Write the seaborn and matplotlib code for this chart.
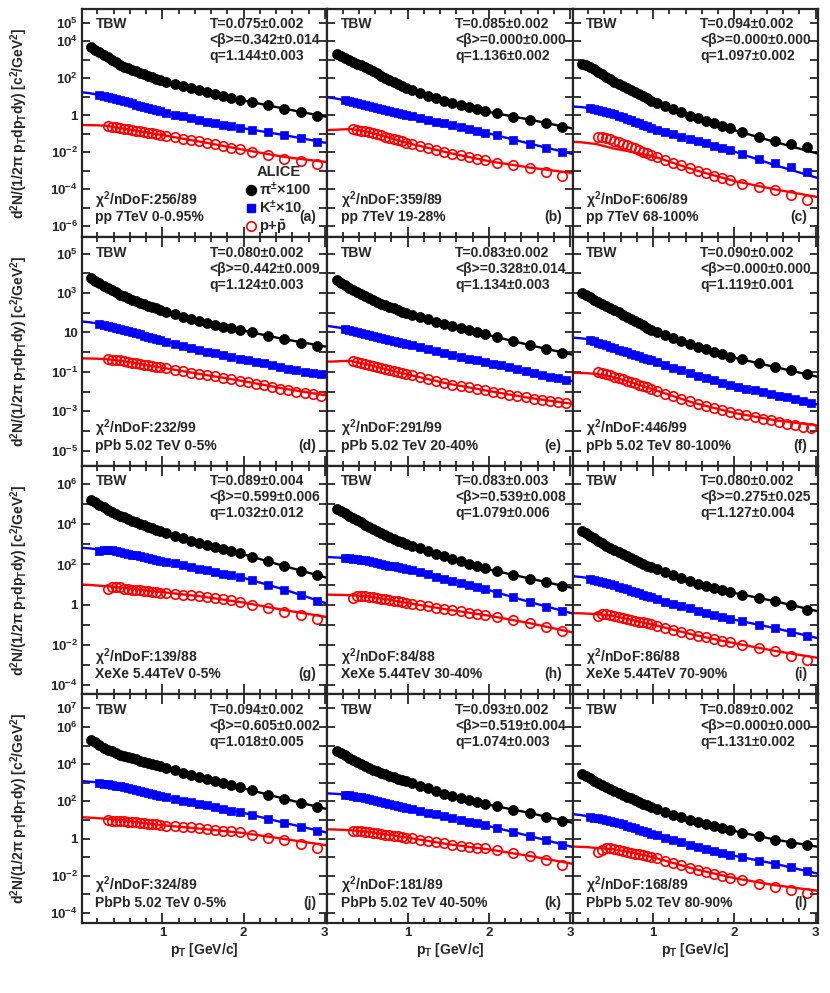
import numpy as np
import matplotlib
matplotlib.use('Agg')
import matplotlib.pyplot as plt
import seaborn as sns
from matplotlib.ticker import FixedLocator, MultipleLocator, NullLocator
from matplotlib.lines import Line2D

# ---- data (log10 of d2N/(2pi pT dpT dy)) ----
# pT bin centres (pions use all, kaons from 0.225, protons from 0.325)
PT = [0.125, 0.175, 0.225, 0.275, 0.325, 0.375, 0.425, 0.475, 0.525, 0.575,
      0.625, 0.675, 0.725, 0.775, 0.825, 0.875, 0.925, 0.975,
      1.05, 1.15, 1.25, 1.35, 1.45, 1.55, 1.65, 1.75, 1.85, 1.95,
      2.1, 2.3, 2.5, 2.7, 2.9]
# pPb kaons / protons have finer bins above 2 GeV/c
PT_PPB = [0.125, 0.175, 0.225, 0.275, 0.325, 0.375, 0.425, 0.475, 0.525, 0.575,
          0.625, 0.675, 0.725, 0.775, 0.825, 0.875, 0.925, 0.975,
          1.05, 1.15, 1.25, 1.35, 1.45, 1.55, 1.65, 1.75, 1.85, 1.95,
          2.05, 2.15, 2.25, 2.35, 2.45, 2.55, 2.65, 2.75, 2.85, 2.95]
# x of the fit curves (pion curve starts at 0.1)
FIT_X = [0.0, 0.1, 0.2, 0.3, 0.5, 0.75, 1.0, 1.5, 2.0, 2.5, 3.03]

# (a) pp 7TeV 0-0.95%
PI_A = [3.67, 3.54, 3.40, 3.27, 3.13, 3.00, 2.87, 2.74, 2.63, 2.54, 2.45, 2.37, 2.29, 2.21, 2.13, 2.05, 1.98, 1.91,
        1.81, 1.70, 1.59, 1.47, 1.36, 1.25, 1.15, 1.05, 0.95, 0.85, 0.71, 0.54, 0.36, 0.16, -0.04]
K_A = [1.08, 1.03, 0.98, 0.93, 0.88, 0.83, 0.77, 0.71, 0.64, 0.58, 0.52, 0.46, 0.40, 0.33, 0.27, 0.21,
       0.13, 0.04, -0.06, -0.16, -0.25, -0.34, -0.42, -0.50, -0.58, -0.66, -0.77, -0.92, -1.07, -1.25, -1.43]
P_A = [-0.58, -0.61, -0.65, -0.68, -0.72, -0.76, -0.79, -0.83, -0.87, -0.90, -0.94, -0.98, -1.01, -1.05,
       -1.11, -1.18, -1.26, -1.34, -1.41, -1.49, -1.57, -1.66, -1.74, -1.82, -1.96, -2.15, -2.35, -2.46, -2.62]
PI_FIT_A = [3.74, 3.47, 3.2, 2.67, 2.22, 1.87, 1.3, 0.8, 0.36, -0.09]
K_FIT_A = [1.25, 1.2, 1.12, 1.02, 0.8, 0.5, 0.18, -0.3, -0.7, -1.07, -1.5]
P_FIT_A = [-0.52, -0.53, -0.54, -0.56, -0.7, -0.88, -1.07, -1.45, -1.86, -2.25, -2.53]

# (b) pp 7TeV 19-28%
PI_B = [3.34, 3.23, 3.12, 3.01, 2.90, 2.80, 2.70, 2.60, 2.49, 2.38, 2.27, 2.15, 2.04, 1.93, 1.82, 1.71, 1.60, 1.49,
        1.36, 1.21, 1.07, 0.92, 0.78, 0.66, 0.55, 0.45, 0.34, 0.23, 0.10, -0.07, -0.23, -0.43, -0.62]
K_B = [0.81, 0.76, 0.71, 0.66, 0.61, 0.56, 0.50, 0.45, 0.40, 0.34, 0.29, 0.24, 0.18, 0.13, 0.08, 0.03,
       -0.05, -0.14, -0.24, -0.34, -0.43, -0.53, -0.63, -0.73, -0.83, -0.93, -1.09, -1.31, -1.53, -1.76, -1.98]
P_B = [-0.76, -0.79, -0.83, -0.86, -0.91, -0.97, -1.03, -1.09, -1.16, -1.22, -1.28, -1.34, -1.41, -1.47,
       -1.55, -1.66, -1.76, -1.86, -1.97, -2.07, -2.16, -2.25, -2.34, -2.43, -2.55, -2.70, -2.85, -3.05, -3.30]
PI_FIT_B = [3.39, 3.16, 2.95, 2.55, 1.97, 1.43, 0.71, 0.18, -0.23, -0.71]
K_FIT_B = [0.98, 0.92, 0.84, 0.74, 0.53, 0.27, 0.0, -0.48, -0.98, -1.53, -2.09]
P_FIT_B = [-0.8, -0.78, -0.76, -0.74, -0.88, -1.18, -1.5, -2.02, -2.48, -2.82, -3.12]

# (c) pp 7TeV 68-100%
PI_C = [2.78, 2.71, 2.62, 2.50, 2.34, 2.21, 2.07, 1.94, 1.81, 1.70, 1.59, 1.47, 1.36, 1.25, 1.14, 1.03, 0.92, 0.80,
        0.67, 0.50, 0.33, 0.16, -0.01, -0.16, -0.30, -0.44, -0.57, -0.71, -0.89, -1.16, -1.37, -1.55, -1.73]
K_C = [0.38, 0.33, 0.28, 0.22, 0.17, 0.12, 0.05, -0.03, -0.11, -0.18, -0.26, -0.34, -0.42, -0.50, -0.59, -0.67,
       -0.77, -0.90, -1.02, -1.15, -1.27, -1.40, -1.52, -1.65, -1.77, -1.90, -2.08, -2.34, -2.58, -2.80, -3.05]
P_C = [-1.15, -1.18, -1.23, -1.30, -1.38, -1.46, -1.54, -1.62, -1.70, -1.78, -1.87, -1.96, -2.05, -2.14,
       -2.26, -2.41, -2.56, -2.71, -2.86, -3.00, -3.13, -3.26, -3.38, -3.51, -3.72, -3.90, -4.03, -4.28, -4.55]
PI_FIT_C = [2.8, 2.67, 2.41, 1.87, 1.3, 0.75, -0.09, -0.8, -1.44, -2.07]
K_FIT_C = [0.48, 0.45, 0.41, 0.33, 0.09, -0.3, -0.71, -1.34, -1.96, -2.69, -3.39]
P_FIT_C = [-1.43, -1.45, -1.5, -1.55, -1.78, -1.98, -2.21, -2.94, -3.55, -4.0, -4.42]

# (d) pPb 5.02 TeV 0-5%
PI_D = [3.76, 3.63, 3.50, 3.37, 3.25, 3.14, 3.03, 2.92, 2.83, 2.75, 2.67, 2.59, 2.51, 2.43, 2.36, 2.29, 2.22, 2.15,
        2.05, 1.93, 1.81, 1.69, 1.57, 1.47, 1.38, 1.30, 1.22, 1.13, 1.00, 0.83, 0.66, 0.49, 0.32]
K_D = [1.44, 1.39, 1.34, 1.29, 1.24, 1.19, 1.14, 1.08, 1.02, 0.96, 0.90, 0.84, 0.78, 0.73, 0.67, 0.61,
       0.53, 0.43, 0.32, 0.22, 0.12, 0.03, -0.06, -0.15, -0.23, -0.32,
       -0.40, -0.49, -0.57, -0.66, -0.75, -0.83, -0.90, -0.98, -1.05, -1.13]
P_D = [-0.36, -0.38, -0.40, -0.42, -0.46, -0.49, -0.53, -0.56, -0.60, -0.63, -0.67, -0.70, -0.74, -0.77,
       -0.82, -0.89, -0.96, -1.03, -1.10, -1.16, -1.23, -1.30, -1.37, -1.44,
       -1.51, -1.60, -1.68, -1.77, -1.85, -1.93, -2.00, -2.07, -2.14, -2.20]
PI_FIT_D = [3.83, 3.55, 3.3, 2.87, 2.47, 2.11, 1.51, 1.09, 0.66, 0.27]
K_FIT_D = [1.56, 1.52, 1.46, 1.39, 1.17, 0.87, 0.58, 0.07, -0.36, -0.79, -1.21]
P_FIT_D = [-0.31, -0.32, -0.33, -0.35, -0.44, -0.61, -0.79, -1.13, -1.47, -1.85, -2.2]

# (e) pPb 5.02 TeV 20-40%
PI_E = [3.64, 3.52, 3.39, 3.27, 3.16, 3.06, 2.95, 2.84, 2.74, 2.65, 2.56, 2.47, 2.39, 2.30, 2.22, 2.14, 2.06, 1.98,
        1.88, 1.77, 1.66, 1.55, 1.44, 1.33, 1.23, 1.12, 1.02, 0.91, 0.76, 0.56, 0.36, 0.16, -0.04]
K_E = [1.19, 1.14, 1.09, 1.04, 0.99, 0.94, 0.88, 0.83, 0.78, 0.73, 0.68, 0.63, 0.58, 0.52, 0.47, 0.42,
       0.35, 0.25, 0.14, 0.04, -0.06, -0.15, -0.24, -0.32, -0.40, -0.49,
       -0.58, -0.67, -0.77, -0.86, -0.95, -1.05, -1.14, -1.24, -1.33, -1.42]
P_E = [-0.46, -0.51, -0.55, -0.60, -0.65, -0.70, -0.75, -0.80, -0.85, -0.90, -0.96, -1.01, -1.06, -1.11,
       -1.18, -1.27, -1.37, -1.46, -1.55, -1.64, -1.71, -1.79, -1.86, -1.93,
       -2.01, -2.08, -2.15, -2.22, -2.29, -2.35, -2.41, -2.48, -2.54, -2.60]
PI_FIT_E = [3.7, 3.46, 3.21, 2.79, 2.35, 1.93, 1.38, 0.86, 0.36, -0.13]
K_FIT_E = [1.34, 1.28, 1.22, 1.15, 0.91, 0.66, 0.4, -0.11, -0.53, -1.0, -1.47]
P_FIT_E = [-0.48, -0.47, -0.45, -0.44, -0.62, -0.88, -1.13, -1.6, -1.97, -2.32, -2.62]

# (f) pPb 5.02 TeV 80-100%
PI_F = [2.99, 2.88, 2.78, 2.67, 2.57, 2.46, 2.35, 2.24, 2.13, 2.02, 1.91, 1.80, 1.69, 1.58, 1.47, 1.36, 1.25, 1.14,
        1.01, 0.86, 0.70, 0.55, 0.40, 0.26, 0.14, 0.02, -0.10, -0.22, -0.36, -0.53, -0.75, -0.92, -1.09]
K_F = [0.62, 0.55, 0.48, 0.41, 0.34, 0.27, 0.20, 0.13, 0.06, 0.00, -0.07, -0.14, -0.20, -0.27, -0.34, -0.41,
       -0.51, -0.65, -0.79, -0.92, -1.06, -1.19, -1.31, -1.43, -1.54, -1.66,
       -1.76, -1.85, -1.94, -2.02, -2.11, -2.20, -2.29, -2.38, -2.47, -2.56]
P_F = [-0.98, -1.05, -1.11, -1.18, -1.24, -1.31, -1.38, -1.45, -1.52, -1.58, -1.65, -1.72, -1.79, -1.86,
       -1.96, -2.10, -2.23, -2.37, -2.50, -2.62, -2.72, -2.83, -2.93, -3.03,
       -3.12, -3.21, -3.29, -3.37, -3.46, -3.54, -3.62, -3.70, -3.77, -3.85]
PI_FIT_F = [3.04, 2.87, 2.62, 2.19, 1.62, 1.09, 0.32, -0.28, -0.75, -1.25]
K_FIT_F = [0.74, 0.71, 0.66, 0.57, 0.23, -0.1, -0.44, -1.13, -1.72, -2.15, -2.66]
P_FIT_F = [-1.04, -1.05, -1.07, -1.1, -1.25, -1.55, -1.89, -2.57, -3.08, -3.45, -3.72]

# (g) XeXe 5.44TeV 0-5%
PI_G = [5.22, 5.09, 4.97, 4.84, 4.73, 4.63, 4.53, 4.43, 4.34, 4.26, 4.18, 4.11, 4.03, 3.96, 3.88, 3.81, 3.73, 3.66,
        3.56, 3.43, 3.31, 3.19, 3.06, 2.95, 2.85, 2.75, 2.65, 2.55, 2.38, 2.15, 1.92, 1.69, 1.45]
K_G = [2.66, 2.72, 2.73, 2.71, 2.68, 2.64, 2.58, 2.54, 2.49, 2.45, 2.41, 2.37, 2.32, 2.28, 2.24, 2.19,
       2.13, 2.05, 1.96, 1.88, 1.79, 1.71, 1.63, 1.54, 1.46, 1.37, 1.22, 0.99, 0.75, 0.46, 0.17]
P_G = [0.80, 0.86, 0.90, 0.86, 0.80, 0.77, 0.75, 0.73, 0.71, 0.69, 0.67, 0.64, 0.62, 0.59,
       0.56, 0.53, 0.50, 0.47, 0.44, 0.39, 0.33, 0.27, 0.21, 0.15, -0.03, -0.17, -0.38, -0.53, -0.72]
PI_FIT_G = [5.28, 5.0, 4.78, 4.38, 3.99, 3.62, 3.0, 2.5, 1.92, 1.33]
K_FIT_G = [2.83, 2.8, 2.75, 2.7, 2.6, 2.39, 2.17, 1.75, 1.33, 0.75, 0.05]
P_FIT_G = [1.0, 0.98, 0.95, 0.92, 0.85, 0.74, 0.62, 0.4, 0.1, -0.27, -0.62]

# (h) XeXe 5.44TeV 30-40%
PI_H = [4.75, 4.64, 4.54, 4.43, 4.32, 4.21, 4.09, 3.98, 3.86, 3.76, 3.66, 3.56, 3.46, 3.37, 3.28, 3.19, 3.11, 3.03,
        2.93, 2.80, 2.66, 2.53, 2.40, 2.27, 2.16, 2.04, 1.93, 1.81, 1.66, 1.48, 1.30, 1.12, 0.95]
K_H = [2.31, 2.31, 2.29, 2.26, 2.23, 2.20, 2.15, 2.11, 2.07, 2.02, 1.98, 1.94, 1.90, 1.86, 1.82, 1.77,
       1.70, 1.60, 1.50, 1.40, 1.30, 1.20, 1.09, 0.99, 0.88, 0.77, 0.60, 0.36, 0.13, -0.10, -0.33]
P_H = [0.35, 0.41, 0.45, 0.44, 0.40, 0.37, 0.33, 0.30, 0.26, 0.23, 0.20, 0.16, 0.13, 0.09,
       0.05, -0.02, -0.08, -0.15, -0.22, -0.28, -0.34, -0.40, -0.46, -0.52, -0.62, -0.77, -0.92, -1.10, -1.30]
PI_FIT_H = [4.8, 4.58, 4.38, 3.92, 3.42, 3.0, 2.33, 1.75, 1.3, 0.83]
K_FIT_H = [2.37, 2.35, 2.33, 2.3, 2.17, 1.97, 1.75, 1.25, 0.72, 0.13, -0.44]
P_FIT_H = [0.5, 0.49, 0.48, 0.47, 0.42, 0.26, 0.08, -0.25, -0.55, -0.92, -1.38]

# (i) XeXe 5.44TeV 70-90%
PI_I = [3.66, 3.54, 3.43, 3.31, 3.19, 3.06, 2.94, 2.81, 2.70, 2.60, 2.50, 2.40, 2.31, 2.21, 2.12, 2.03, 1.94, 1.86,
        1.76, 1.61, 1.46, 1.31, 1.16, 1.03, 0.93, 0.83, 0.73, 0.63, 0.50, 0.33, 0.17, -0.04, -0.25]
K_I = [1.30, 1.25, 1.19, 1.14, 1.08, 1.03, 0.97, 0.90, 0.83, 0.77, 0.70, 0.63, 0.57, 0.50, 0.43, 0.36,
       0.27, 0.15, 0.04, -0.08, -0.19, -0.30, -0.40, -0.50, -0.60, -0.70, -0.83, -1.00, -1.17, -1.38, -1.58]
P_I = [-0.56, -0.49, -0.46, -0.50, -0.57, -0.61, -0.66, -0.70, -0.75, -0.79, -0.84, -0.88, -0.93, -0.97,
       -1.05, -1.15, -1.25, -1.35, -1.45, -1.54, -1.62, -1.71, -1.79, -1.88, -2.00, -2.16, -2.33, -2.54, -2.75]
PI_FIT_I = [3.72, 3.5, 3.25, 2.75, 2.27, 1.83, 1.08, 0.58, 0.17, -0.33]
K_FIT_I = [1.42, 1.38, 1.33, 1.25, 1.0, 0.67, 0.33, -0.25, -0.75, -1.17, -1.67]
P_FIT_I = [-0.42, -0.43, -0.45, -0.47, -0.55, -0.77, -1.0, -1.5, -1.92, -2.3, -2.65]

# (j) PbPb 5.02 TeV 0-5%
PI_J = [5.31, 5.17, 5.02, 4.88, 4.77, 4.69, 4.60, 4.51, 4.44, 4.38, 4.32, 4.26, 4.19, 4.13, 4.07, 4.01, 3.94, 3.88,
        3.79, 3.67, 3.54, 3.42, 3.29, 3.18, 3.07, 2.97, 2.86, 2.75, 2.59, 2.36, 2.14, 1.91, 1.68]
K_J = [3.00, 2.96, 2.92, 2.88, 2.85, 2.81, 2.76, 2.71, 2.66, 2.60, 2.55, 2.50, 2.44, 2.39, 2.34, 2.29,
       2.22, 2.13, 2.04, 1.95, 1.86, 1.78, 1.69, 1.60, 1.51, 1.42, 1.27, 1.06, 0.85, 0.63, 0.41]
P_J = [0.99, 0.97, 0.96, 0.95, 0.93, 0.91, 0.89, 0.87, 0.85, 0.82, 0.80, 0.78, 0.76, 0.74,
       0.70, 0.67, 0.63, 0.60, 0.57, 0.53, 0.48, 0.43, 0.39, 0.34, 0.20, 0.05, -0.08, -0.30, -0.48]
PI_FIT_J = [5.38, 5.08, 4.81, 4.47, 4.15, 3.85, 3.23, 2.7, 2.14, 1.58]
K_FIT_J = [3.09, 3.06, 3.02, 2.96, 2.79, 2.53, 2.26, 1.82, 1.38, 0.85, 0.32]
P_FIT_J = [1.15, 1.13, 1.1, 1.07, 1.0, 0.85, 0.72, 0.52, 0.3, -0.02, -0.36]

# (k) PbPb 5.02 TeV 40-50%
PI_K = [4.72, 4.60, 4.47, 4.35, 4.23, 4.12, 4.01, 3.90, 3.80, 3.71, 3.62, 3.53, 3.45, 3.37, 3.29, 3.21, 3.14, 3.07,
        2.98, 2.84, 2.70, 2.56, 2.42, 2.30, 2.19, 2.09, 1.98, 1.87, 1.73, 1.56, 1.38, 1.16, 0.94]
K_K = [2.36, 2.33, 2.29, 2.26, 2.22, 2.19, 2.14, 2.09, 2.04, 1.98, 1.93, 1.88, 1.82, 1.77, 1.72, 1.67,
       1.59, 1.49, 1.40, 1.30, 1.20, 1.10, 1.01, 0.91, 0.82, 0.72, 0.56, 0.35, 0.14, -0.10, -0.33]
P_K = [0.43, 0.42, 0.40, 0.38, 0.35, 0.32, 0.29, 0.26, 0.22, 0.19, 0.16, 0.13, 0.10, 0.06,
       0.02, -0.05, -0.12, -0.19, -0.26, -0.33, -0.38, -0.43, -0.48, -0.53, -0.62, -0.77, -0.92, -1.15, -1.39]
PI_FIT_K = [4.78, 4.55, 4.29, 3.85, 3.43, 3.05, 2.35, 1.82, 1.38, 0.85]
K_FIT_K = [2.43, 2.41, 2.38, 2.33, 2.17, 1.9, 1.64, 1.15, 0.67, 0.14, -0.45]
P_FIT_K = [0.5, 0.49, 0.47, 0.45, 0.37, 0.22, 0.05, -0.3, -0.58, -0.93, -1.35]

# (l) PbPb 5.02 TeV 80-90%
PI_L = [3.49, 3.36, 3.24, 3.11, 2.99, 2.88, 2.77, 2.66, 2.56, 2.46, 2.36, 2.26, 2.16, 2.06, 1.96, 1.87, 1.78, 1.69,
        1.57, 1.43, 1.29, 1.15, 1.01, 0.89, 0.78, 0.68, 0.57, 0.46, 0.30, 0.12, -0.06, -0.22, -0.36]
K_L = [1.18, 1.13, 1.09, 1.05, 1.00, 0.96, 0.90, 0.83, 0.76, 0.69, 0.62, 0.55, 0.47, 0.40, 0.33, 0.26,
       0.17, 0.05, -0.08, -0.20, -0.33, -0.44, -0.55, -0.66, -0.76, -0.87, -1.01, -1.18, -1.35, -1.55, -1.75]
P_L = [-0.70, -0.60, -0.52, -0.53, -0.58, -0.62, -0.66, -0.71, -0.75, -0.80, -0.84, -0.89, -0.93, -0.98,
       -1.06, -1.19, -1.31, -1.43, -1.56, -1.67, -1.78, -1.88, -1.99, -2.10, -2.24, -2.41, -2.59, -2.76, -2.94]
PI_FIT_L = [3.55, 3.32, 3.05, 2.61, 2.1, 1.64, 0.94, 0.41, -0.05, -0.44]
K_FIT_L = [1.32, 1.27, 1.2, 1.13, 0.94, 0.6, 0.23, -0.39, -0.92, -1.35, -1.88]
P_FIT_L = [-0.42, -0.44, -0.46, -0.5, -0.56, -0.75, -1.0, -1.62, -2.12, -2.5, -2.8]

# fit parameters and panel texts
TAGS = ['(a)', '(b)', '(c)', '(d)', '(e)', '(f)', '(g)', '(h)', '(i)', '(j)', '(k)', '(l)']
TEMPS = ['0.075±0.002', '0.085±0.002', '0.094±0.002', '0.080±0.002', '0.083±0.002', '0.090±0.002',
         '0.089±0.004', '0.083±0.003', '0.080±0.002', '0.094±0.002', '0.093±0.002', '0.089±0.002']
BETAS = ['0.342±0.014', '0.000±0.000', '0.000±0.000', '0.442±0.009', '0.328±0.014', '0.000±0.000',
         '0.599±0.006', '0.539±0.008', '0.275±0.025', '0.605±0.002', '0.519±0.004', '0.000±0.000']
QS = ['1.144±0.003', '1.136±0.002', '1.097±0.002', '1.124±0.003', '1.134±0.003', '1.119±0.001',
      '1.032±0.012', '1.079±0.006', '1.127±0.004', '1.018±0.005', '1.074±0.003', '1.131±0.002']
CHI2 = ['256/89', '359/89', '606/89', '232/99', '291/99', '446/99',
        '139/88', '84/88', '86/88', '324/89', '181/89', '168/89']
SYSTEMS = ['pp 7TeV 0-0.95%', 'pp 7TeV 19-28%', 'pp 7TeV 68-100%',
           'pPb 5.02 TeV 0-5%', 'pPb 5.02 TeV 20-40%', 'pPb 5.02 TeV 80-100%',
           'XeXe 5.44TeV 0-5%', 'XeXe 5.44TeV 30-40%', 'XeXe 5.44TeV 70-90%',
           'PbPb 5.02 TeV 0-5%', 'PbPb 5.02 TeV 40-50%', 'PbPb 5.02 TeV 80-90%']

# y range per row (log10) and decades that get a label
ROW_YLIM = [(-6.6, 5.75), (-5.77, 5.82), (-4.47, 6.9), (-4.53, 7.74)]
ROW_YLAB = [[5, 4, 2, 0, -2, -4, -6], [5, 3, 1, -1, -3, -5], [6, 4, 2, 0, -2, -4], [7, 6, 4, 2, 0, -2, -4]]

PI_ALL = [PI_A, PI_B, PI_C, PI_D, PI_E, PI_F, PI_G, PI_H, PI_I, PI_J, PI_K, PI_L]
K_ALL = [K_A, K_B, K_C, K_D, K_E, K_F, K_G, K_H, K_I, K_J, K_K, K_L]
P_ALL = [P_A, P_B, P_C, P_D, P_E, P_F, P_G, P_H, P_I, P_J, P_K, P_L]
PI_FIT_ALL = [PI_FIT_A, PI_FIT_B, PI_FIT_C, PI_FIT_D, PI_FIT_E, PI_FIT_F,
              PI_FIT_G, PI_FIT_H, PI_FIT_I, PI_FIT_J, PI_FIT_K, PI_FIT_L]
K_FIT_ALL = [K_FIT_A, K_FIT_B, K_FIT_C, K_FIT_D, K_FIT_E, K_FIT_F,
             K_FIT_G, K_FIT_H, K_FIT_I, K_FIT_J, K_FIT_K, K_FIT_L]
P_FIT_ALL = [P_FIT_A, P_FIT_B, P_FIT_C, P_FIT_D, P_FIT_E, P_FIT_F,
             P_FIT_G, P_FIT_H, P_FIT_I, P_FIT_J, P_FIT_K, P_FIT_L]

# ---- style ----
sns.set_style('ticks')
plt.rcParams['font.family'] = ['Liberation Sans', 'DejaVu Sans']
plt.rcParams['font.weight'] = 'bold'
plt.rcParams['mathtext.fontset'] = 'custom'
plt.rcParams['mathtext.rm'] = 'Liberation Sans:bold'
plt.rcParams['mathtext.it'] = 'Liberation Sans:bold'
plt.rcParams['mathtext.bf'] = 'Liberation Sans:bold'
plt.rcParams['mathtext.sf'] = 'Liberation Sans:bold'
plt.rcParams['axes.linewidth'] = 1.6

BLUE = '#0000ff'
RED = '#ff0000'
FS = 10
MS_PI, MS_K, MS_P = 7.2, 6.4, 6.8


def ylab(d):
    if d == 0:
        return '1'
    if d == 1:
        return '10'
    return r'$10^{%d}$' % d


def tail(grid, vals):
    # values are aligned to the high-pT end of the grid
    return np.array(grid[-len(vals):])


fig, axes = plt.subplots(4, 3, figsize=(8.3, 9.93), dpi=100, sharex='col', sharey='row')
fig.subplots_adjust(left=0.0988, right=0.9855, top=0.991, bottom=0.0705, wspace=0, hspace=0)

for i in range(12):
    r, c = divmod(i, 3)
    ax = axes[r, c]
    lo, hi = ROW_YLIM[r]
    ax.set_yscale('log')
    kp_grid = PT_PPB if r == 1 else PT

    # fit curves
    sns.lineplot(x=tail(FIT_X, PI_FIT_ALL[i]), y=10 ** np.array(PI_FIT_ALL[i]), ax=ax,
                 color='black', linewidth=1.7, estimator=None, sort=False, zorder=2)
    sns.lineplot(x=tail(FIT_X, K_FIT_ALL[i]), y=10 ** np.array(K_FIT_ALL[i]), ax=ax,
                 color=BLUE, linewidth=1.7, estimator=None, sort=False, zorder=2)
    sns.lineplot(x=tail(FIT_X, P_FIT_ALL[i]), y=10 ** np.array(P_FIT_ALL[i]), ax=ax,
                 color=RED, linewidth=1.7, estimator=None, sort=False, zorder=2)

    # data points
    sns.lineplot(x=tail(PT, PI_ALL[i]), y=10 ** np.array(PI_ALL[i]), ax=ax,
                 linestyle='', marker='o', markersize=MS_PI, color='black',
                 markerfacecolor='black', markeredgecolor='black', markeredgewidth=0.5,
                 estimator=None, sort=False, zorder=3)
    sns.lineplot(x=tail(kp_grid, K_ALL[i]), y=10 ** np.array(K_ALL[i]), ax=ax,
                 linestyle='', marker='s', markersize=MS_K, color=BLUE,
                 markerfacecolor=BLUE, markeredgecolor=BLUE, markeredgewidth=0.5,
                 estimator=None, sort=False, zorder=3)
    sns.lineplot(x=tail(kp_grid, P_ALL[i]), y=10 ** np.array(P_ALL[i]), ax=ax,
                 linestyle='', marker='o', markersize=MS_P, color=RED,
                 markerfacecolor='none', markeredgecolor=RED, markeredgewidth=1.2,
                 estimator=None, sort=False, zorder=3)

    # axes
    ax.set_xlim(0.01, 3.03)
    ax.set_ylim(10.0 ** lo, 10.0 ** hi)
    decs = list(range(int(np.ceil(lo)), int(np.floor(hi)) + 1))
    ax.yaxis.set_major_locator(FixedLocator([10.0 ** d for d in decs]))
    ax.set_yticklabels([ylab(d) if d in ROW_YLAB[r] else '' for d in decs])
    ax.yaxis.set_minor_locator(NullLocator())
    ax.xaxis.set_major_locator(FixedLocator([1, 2, 3]))
    ax.xaxis.set_minor_locator(MultipleLocator(0.2))
    ax.tick_params(which='both', direction='in', top=True, right=True, width=1.3,
                   labelsize=9.5, pad=3)
    ax.tick_params(axis='x', which='major', length=7)
    ax.tick_params(axis='x', which='minor', length=3.5)
    ax.tick_params(axis='y', which='major', length=6)
    ax.set_xlabel('')
    ax.set_ylabel('')

    # panel texts
    ax.text(0.055, 0.934, 'TBW', transform=ax.transAxes, fontsize=FS, fontweight='bold', va='center')
    ax.text(0.52, 0.934, 'T=' + TEMPS[i], transform=ax.transAxes, fontsize=FS, fontweight='bold', va='center')
    ax.text(0.52, 0.864, '<β>=' + BETAS[i], transform=ax.transAxes, fontsize=FS, fontweight='bold', va='center')
    ax.text(0.52, 0.794, 'q=' + QS[i], transform=ax.transAxes, fontsize=FS, fontweight='bold', va='center')
    ax.text(0.055, 0.165, r'$\chi^{2}$/nDoF:' + CHI2[i], transform=ax.transAxes, fontsize=FS,
            fontweight='bold', va='center')
    ax.text(0.055, 0.088, SYSTEMS[i], transform=ax.transAxes, fontsize=FS, fontweight='bold', va='center')
    ax.text(0.955, 0.088, TAGS[i], transform=ax.transAxes, fontsize=FS, fontweight='bold',
            va='center', ha='right')

# legend in panel (a)
handles = [Line2D([], [], linestyle='', marker='o', markersize=MS_PI, color='black'),
           Line2D([], [], linestyle='', marker='s', markersize=MS_K, color=BLUE),
           Line2D([], [], linestyle='', marker='o', markersize=MS_P, markerfacecolor='none',
                  markeredgecolor=RED, markeredgewidth=1.2)]
labels = [r'$\pi^{\pm}$×100', r'K$^{\pm}$×10', r'p+$\bar{\rm p}$']
axes[0, 0].legend(handles, labels, title='ALICE', loc='lower left', bbox_to_anchor=(0.655, -0.005),
                  frameon=False, fontsize=10.5, handlelength=0.7, handletextpad=0.25,
                  labelspacing=0.08, borderaxespad=0, borderpad=0.2,
                  title_fontproperties={'weight': 'bold', 'size': 10.5})

# axis titles
ytitle = r'd$^{2}$N/(1/2$\pi$ p$_{T}$dp$_{T}$dy) [c$^{2}$/GeV$^{2}$]'
for r in range(4):
    pos = axes[r, 0].get_position()
    fig.text(0.023, (pos.y0 + pos.y1) / 2, ytitle, rotation=90, ha='center', va='center',
             fontsize=FS, fontweight='bold')
for c in range(3):
    pos = axes[3, c].get_position()
    fig.text((pos.x0 + pos.x1) / 2, 0.043, r'p$_{T}$ [GeV/c]', ha='center', va='center',
             fontsize=FS, fontweight='bold')

fig.savefig('out.png', dpi=100)
